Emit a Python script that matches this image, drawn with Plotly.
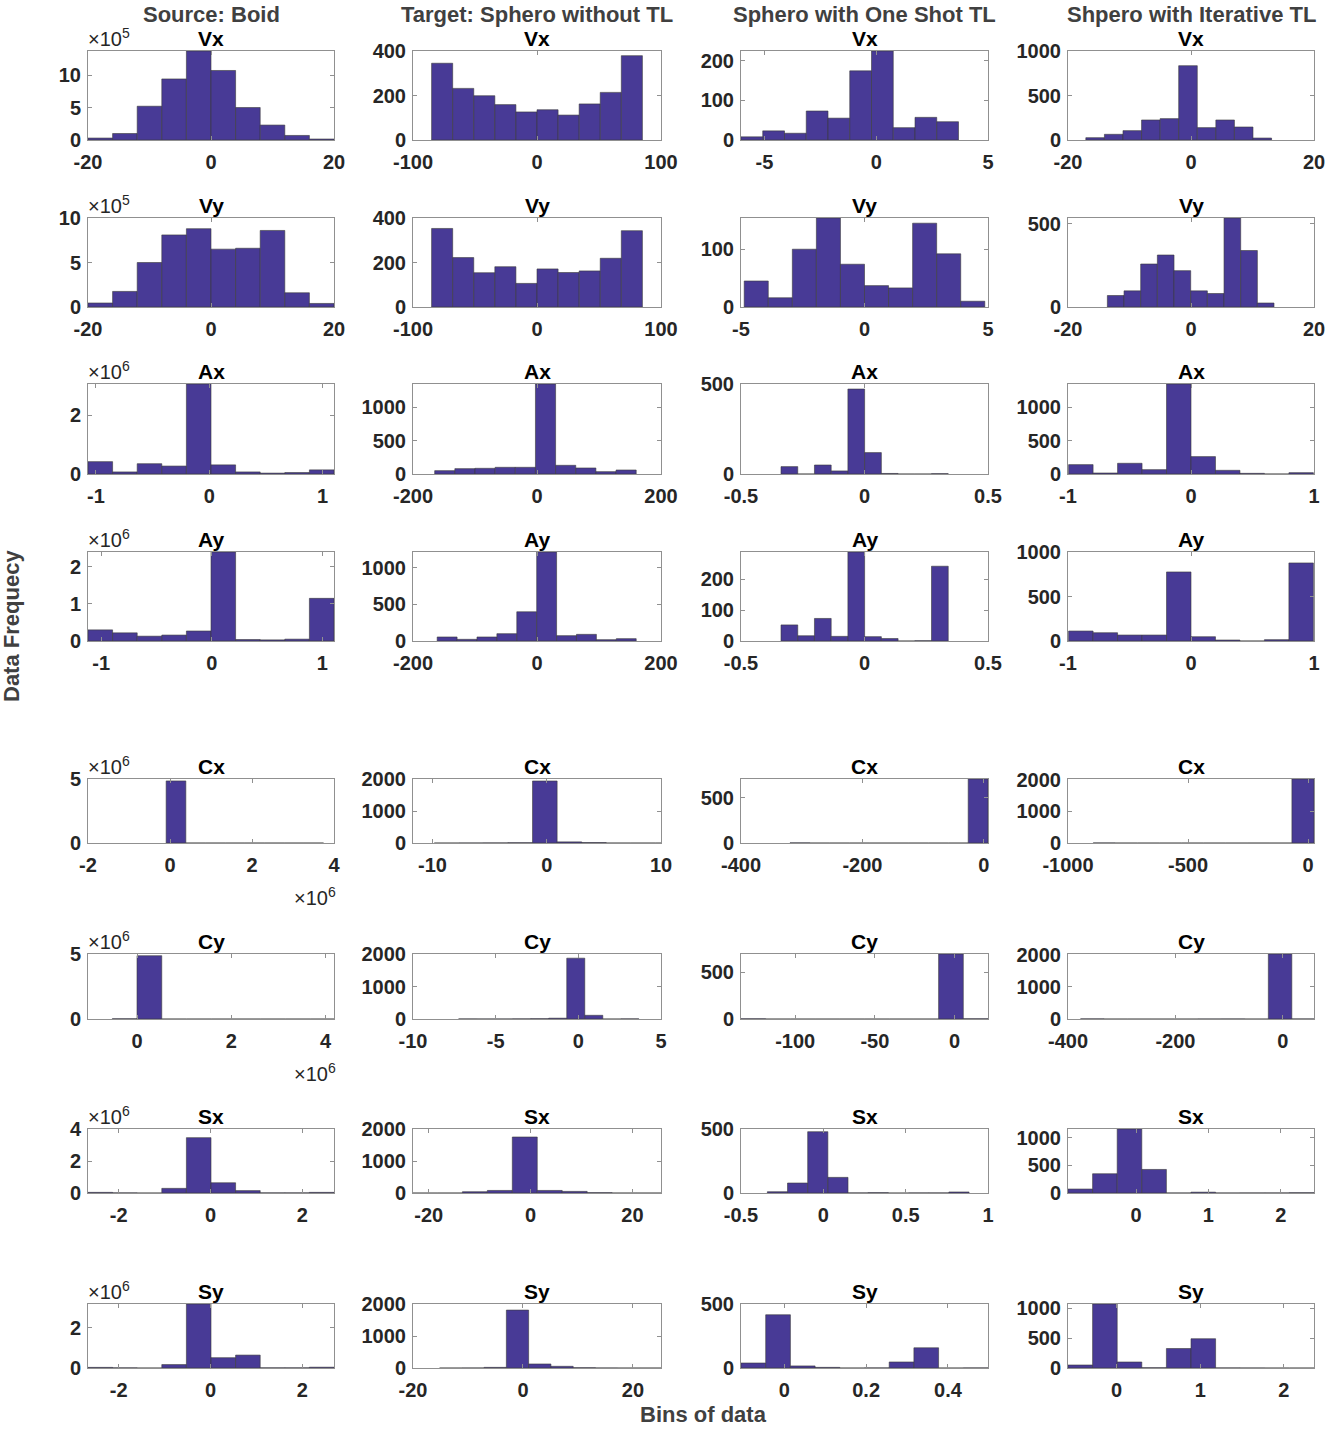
import plotly.graph_objects as go
from plotly.subplots import make_subplots

columns = ["Source: Boid", "Target: Sphero without TL",
           "Sphero with One Shot TL", "Shpero with Iterative TL"]
variables = ["Vx", "Vy", "Ax", "Ay", "Cx", "Cy", "Sx", "Sy"]

# counts per bin (Boid values are in units of 10^exp, see boid_exp)
boid_counts = [
    [0.3, 1.0, 5.2, 9.4, 13.7, 10.7, 5.0, 2.3, 0.7, 0.15],
    [0.45, 1.75, 5.0, 8.1, 8.8, 6.5, 6.6, 8.6, 1.6, 0.4],
    [0.42, 0.07, 0.35, 0.27, 3.06, 0.31, 0.07, 0.03, 0.05, 0.14],
    [0.30, 0.22, 0.13, 0.16, 0.27, 2.40, 0.04, 0.03, 0.05, 1.15],
    [4.85, 0, 0, 0, 0, 0, 0, 0],
    [0.02, 4.87, 0, 0, 0, 0, 0, 0, 0, 0],
    [0.04, 0.01, 0.0, 0.29, 3.46, 0.64, 0.15, 0.01, 0.01, 0.04],
    [0.03, 0.01, 0.0, 0.17, 3.17, 0.51, 0.64, 0.01, 0.01, 0.04],
]
boid_start = [-20, -20, -1.07, -1.12, -0.094, -0.525, -2.67, -2.67]
boid_width = [4, 4, 0.217, 0.2226, 0.48, 0.525, 0.536, 0.536]
boid_exp = [5, 5, 6, 6, 6, 6, 6, 6]

target_counts = [
    [345, 232, 199, 159, 126, 136, 112, 162, 214, 379],
    [353, 222, 154, 181, 106, 171, 155, 162, 219, 343],
    [50, 80, 85, 100, 100, 1345, 130, 90, 35, 60],
    [55, 23, 55, 100, 400, 1218, 73, 91, 18, 32],
    [0, 2, 4, 10, 1938, 35, 15, 0, 0, 0],
    [3, 2, 2, 5, 10, 25, 1872, 114, 0, 5],
    [0, 1, 40, 80, 1750, 80, 50, 12, 1, 1],
    [0, 2, 20, 1810, 126, 53, 10, 2, 0, 1],
]
target_start = [-85, -85, -165, -161, -9.84, -7.24, -23.2, -15.17]
target_width = [17, 17, 32.5, 32.1, 2.15, 1.09, 4.9, 4.05]

oneshot_counts = [
    [8, 23, 17, 73, 55, 174, 224, 31, 57, 46],
    [45, 16, 100, 154, 74, 37, 33, 145, 92, 10],
    [41, 0, 50, 17, 472, 119, 3, 0, 0, 2],
    [52, 17, 73, 15, 288, 14, 8, 0, 1, 242],
    [2, 0, 0, 0, 0, 0, 0, 0, 0, 704],
    [3, 0, 0, 0, 0, 0, 0, 0, 694, 3],
    [10, 78, 479, 122, 1, 3, 0, 1, 1, 8],
    [39, 416, 16, 5, 0, 1, 47, 158, 0, 1],
]
oneshot_start = [-6.05, -4.87, -0.338, -0.338, -319.3, -134, -0.34, -0.106]
oneshot_width = [0.973, 0.974, 0.0677, 0.0677, 32.6, 15.5, 0.1225, 0.0604]

iter_counts = [
    [26, 64, 105, 225, 240, 835, 139, 225, 146, 22],
    [69, 97, 258, 312, 218, 97, 81, 534, 339, 24],
    [140, 15, 160, 65, 1345, 260, 55, 10, 0, 20],
    [112, 93, 67, 67, 776, 48, 11, 0, 15, 877],
    [3, 0, 0, 0, 0, 0, 0, 1, 0, 2020],
    [5, 0, 0, 0, 0, 2, 3, 0, 2020, 3],
    [72, 350, 1163, 428, 1, 15, 1, 2, 2, 6],
    [50, 1067, 100, 5, 325, 488, 2, 1, 0, 0],
]
iter_start = [-17.1, -13.6, -0.995, -0.995, -895, -376.6, -0.94, -0.58]
iter_width = [3.02, 2.71, 0.199, 0.199, 92, 43.7, 0.34, 0.294]

# axis limits and ticks, per column then per row
x_ranges = [
    [[-20, 20], [-20, 20], [-1.07, 1.10], [-1.12, 1.106], [-2, 4], [-1.04, 4.18], [-2.67, 2.69], [-2.67, 2.69]],
    [[-100, 100], [-100, 100], [-200, 200], [-200, 200], [-11.7, 10], [-10, 5], [-23.1, 25.6], [-20, 25.1]],
    [[-6.05, 5], [-5, 5], [-0.5, 0.5], [-0.5, 0.5], [-400, 6.7], [-134, 21], [-0.5, 1], [-0.106, 0.498]],
    [[-20, 20], [-20, 20], [-1, 1], [-1, 1], [-1000, 25], [-400, 58], [-0.94, 2.46], [-0.58, 2.36]],
]
y_max = [
    [13.7, 10, 3.06, 2.40, 5, 5, 4, 3.17],
    [400, 400, 1345, 1218, 2000, 2000, 2000, 2000],
    [224, 154, 500, 288, 704, 694, 500, 500],
    [1000, 534, 1345, 1000, 2020, 2020, 1163, 1067],
]
x_ticks = [
    [[-20, 0, 20], [-20, 0, 20], [-1, 0, 1], [-1, 0, 1], [-2, 0, 2, 4], [0, 2, 4], [-2, 0, 2], [-2, 0, 2]],
    [[-100, 0, 100], [-100, 0, 100], [-200, 0, 200], [-200, 0, 200], [-10, 0, 10], [-10, -5, 0, 5], [-20, 0, 20], [-20, 0, 20]],
    [[-5, 0, 5], [-5, 0, 5], [-0.5, 0, 0.5], [-0.5, 0, 0.5], [-400, -200, 0], [-100, -50, 0], [-0.5, 0, 0.5, 1], [0, 0.2, 0.4]],
    [[-20, 0, 20], [-20, 0, 20], [-1, 0, 1], [-1, 0, 1], [-1000, -500, 0], [-400, -200, 0], [0, 1, 2], [0, 1, 2]],
]
y_ticks = [
    [[0, 5, 10], [0, 5, 10], [0, 2], [0, 1, 2], [0, 5], [0, 5], [0, 2, 4], [0, 2]],
    [[0, 200, 400], [0, 200, 400], [0, 500, 1000], [0, 500, 1000], [0, 1000, 2000], [0, 1000, 2000], [0, 1000, 2000], [0, 1000, 2000]],
    [[0, 100, 200], [0, 100], [0, 500], [0, 100, 200], [0, 500], [0, 500], [0, 500], [0, 500]],
    [[0, 500, 1000], [0, 500], [0, 500, 1000], [0, 500, 1000], [0, 1000, 2000], [0, 1000, 2000], [0, 500, 1000], [0, 500, 1000]],
]

all_counts = [boid_counts, target_counts, oneshot_counts, iter_counts]
all_start = [boid_start, target_start, oneshot_start, iter_start]
all_width = [boid_width, target_width, oneshot_width, iter_width]

W, H = 1325, 1429
col_px = [(88, 334), (413, 661), (741, 988), (1068, 1314)]
row_px = [(51, 140), (218, 307), (384, 474), (552, 641),
          (779, 843), (954, 1019), (1129, 1193), (1304, 1368)]

BAR = "#483A96"
EDGE = "#3a3a3a"
AXIS = "#909090"
TXT = "#262626"
FONT = "Liberation Sans, Arial, sans-serif"


def fmt(v):
    return "{:g}".format(v)


fig = make_subplots(rows=8, cols=4)
annots = []

for c in range(4):
    x0, x1 = col_px[c]
    for r in range(8):
        y0, y1 = row_px[r]
        counts = all_counts[c][r]
        st, w = all_start[c][r], all_width[c][r]
        centers = [st + w * (k + 0.5) for k in range(len(counts))]
        fig.add_trace(go.Bar(
            x=centers, y=counts, width=[w] * len(counts),
            marker=dict(color=BAR, line=dict(color=EDGE, width=0.6)),
            showlegend=False, hoverinfo="x+y"
        ), row=r + 1, col=c + 1)

        fig.update_xaxes(
            domain=[x0 / W, x1 / W], range=x_ranges[c][r],
            tickvals=x_ticks[c][r], ticktext=[fmt(v) for v in x_ticks[c][r]],
            row=r + 1, col=c + 1)
        fig.update_yaxes(
            domain=[1 - y1 / H, 1 - y0 / H], range=[0, y_max[c][r]],
            tickvals=y_ticks[c][r], ticktext=[fmt(v) for v in y_ticks[c][r]],
            row=r + 1, col=c + 1)

        # panel title
        annots.append(dict(
            x=(x0 + x1) / 2 / W, y=1 - (y0 + 1) / H, xref="paper", yref="paper",
            xanchor="center", yanchor="bottom", text=variables[r], showarrow=False,
            font=dict(family=FONT, size=21, color="black", weight="bold")))

        if c == 0:
            annots.append(dict(
                x=(x0 - 2) / W, y=1 - (y0 + 1) / H, xref="paper", yref="paper",
                xanchor="left", yanchor="bottom",
                text="×10<sup>%d</sup>" % boid_exp[r], showarrow=False,
                font=dict(family=FONT, size=20, color=TXT)))
            if variables[r] in ("Cx", "Cy"):
                annots.append(dict(
                    x=(x1 + 4) / W, y=1 - (y1 + 53) / H, xref="paper", yref="paper",
                    xanchor="right", yanchor="middle",
                    text="×10<sup>6</sup>", showarrow=False,
                    font=dict(family=FONT, size=20, color=TXT)))

    annots.append(dict(
        x=(x0 + x1) / 2 / W, y=1 - 0 / H, xref="paper", yref="paper",
        xanchor="center", yanchor="top", text=columns[c], showarrow=False,
        font=dict(family=FONT, size=22, color="#404040", weight="bold")))

annots.append(dict(
    x=703 / W, y=1 - 1429 / H, xref="paper", yref="paper",
    xanchor="center", yanchor="bottom", text="Bins of data", showarrow=False,
    font=dict(family=FONT, size=22, color="#404040", weight="bold")))
annots.append(dict(
    x=11 / W, y=1 - 626 / H, xref="paper", yref="paper", textangle=-90,
    xanchor="center", yanchor="middle", text="Data Frequecy", showarrow=False,
    font=dict(family=FONT, size=22, color="#404040", weight="bold")))

fig.update_xaxes(
    showline=True, linecolor=AXIS, linewidth=1, mirror="ticks",
    ticks="inside", ticklen=4, tickcolor=AXIS, showgrid=False, zeroline=False,
    automargin=False, ticklabelstandoff=4, ticklabeloverflow="allow",
    tickfont=dict(family=FONT, size=20, color=TXT, weight="bold"))
fig.update_yaxes(
    showline=True, linecolor=AXIS, linewidth=1, mirror="ticks",
    ticks="inside", ticklen=4, tickcolor=AXIS, showgrid=False, zeroline=False,
    automargin=False, ticklabelstandoff=2, ticklabeloverflow="allow",
    tickfont=dict(family=FONT, size=20, color=TXT, weight="bold"))

fig.update_layout(
    width=W, height=H,
    margin=dict(l=0, r=0, t=0, b=0, autoexpand=False),
    plot_bgcolor="white", paper_bgcolor="white",
    annotations=annots,
    barmode="overlay",
)

# page body has a default 8px margin; drop it so the figure fills the window
fig.write_html("out.html", config={"displayModeBar": False},
               post_script="document.body.style.margin = '0px';")
